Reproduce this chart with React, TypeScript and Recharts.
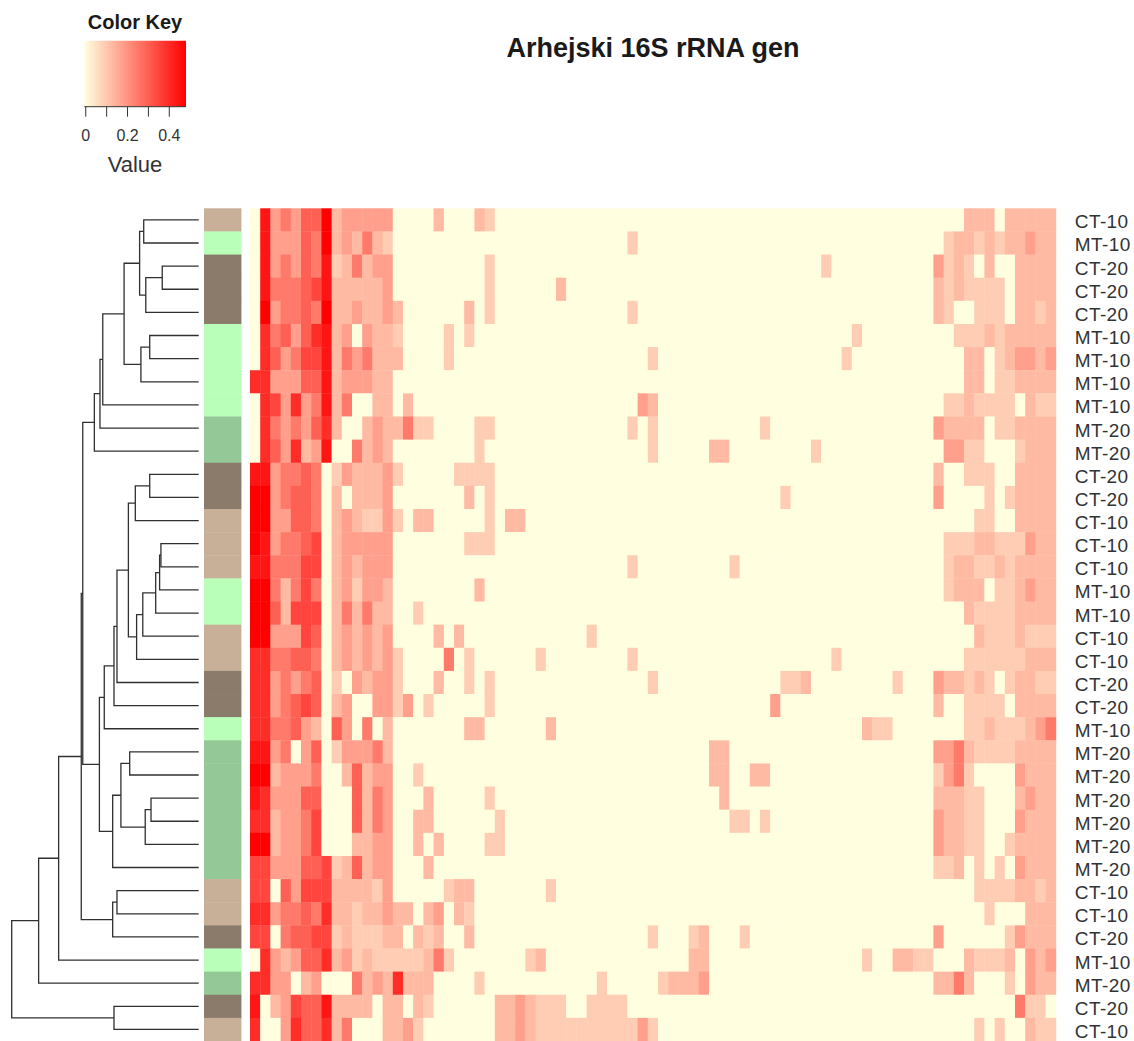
import React from 'react';
import { Area, ComposedChart, Scatter, ScatterChart, XAxis, YAxis } from 'recharts';

// Groups for every row, top to bottom.
const rowLabels = [
  'CT-10','MT-10','CT-20','CT-20','CT-20','MT-10','MT-10','MT-10','MT-10','MT-20','MT-20','CT-20',
  'CT-20','CT-10','CT-10','CT-10','MT-10','MT-10','CT-10','CT-10','CT-20','CT-20','MT-10','MT-20',
  'MT-20','MT-20','MT-20','MT-20','MT-20','CT-10','CT-10','CT-20','MT-10','MT-20','CT-20','CT-10',
];
const groupColors: Record<string, string> = {
  'CT-10': '#C8B098', 'MT-10': '#B9FFB9', 'CT-20': '#8B7B6B', 'MT-20': '#94C896',
};

// One hex digit per cell, an index into levelValues.
const levelValues = [0, 0.05, 0.095, 0.13, 0.18, 0.25, 0.3, 0.35, 0.395, 0.44, 0.48];
const heatRows = [
  '0945466a344444 00003000320 0000000000 0000000000 0000000000 0000000000 00 000333033333',
  '0944465a343532 00000000000 0000000000 0020000000 0000000000 0000000000 00 023323233433',
  '09454659235344 00000000020 0000000000 0000000000 0000000000 0200000000 00 423203003333',
  '09555679333334 00000000020 0000030000 0000000000 0000000000 0000000000 00 323222203333',
  '0a45565a334334 30000003020 0000000000 0020000000 0000000000 0000000000 00 320022203323',
  '08564689340433 20000202000 0000000000 0000000000 0000000000 0000200000 00 002223233333',
  '08645779354533 30000200000 0000000000 0000200000 0000000000 0002000000 00 000330234434',
  '88444669344433 00000000000 0000000000 0000000000 0000000000 0000000000 00 000330223333',
  '08748459350033 03000000000 0000000000 0004300000 0000000000 0000000000 00 022322220322',
  '08545468300343 35220000220 0000000000 0020200000 0000020000 0000000000 00 433330223333',
  '08648349005343 00000000200 0000000000 0000200000 3300000000 2000000000 00 044220002333',
  '99455650243334 20000022220 0000000000 0000000000 0000000000 0000000000 00 300222003333',
  'aa456650303334 00000003020 0000000000 0000000000 0000000200 0000000000 00 400002023333',
  'aa446650343224 20330000020 3300000000 0000000000 0000000000 0000000000 00 000022003333',
  'a9455670344444 00000002220 0000000000 0000000000 0000000000 0000000000 00 022233222433',
  '99555770343444 00000000000 0000000000 0020000000 0020000000 0000000000 00 023322323333',
  'aa535750342443 00000000300 0000000000 0000000000 0000000000 0000000000 00 023330223433',
  'aa637770353533 00200000000 0000000000 0000000000 0000000000 0000000000 00 000322223333',
  'aa444760343434 00003030000 0000000020 0000000000 0000000000 0000000000 00 000032223222',
  '88556650343434 20000502000 0002000000 0020000000 0000000000 0020000000 00 000222222333',
  '88454560204344 20003002020 0000000000 0000200000 0000000223 0000000020 00 433232023322',
  '88456760340044 24020000020 0000000000 0000000000 0000004000 0000000000 00 300222203333',
  '88556430640503 00000003300 0000300000 0000000000 0000000000 0000032200 00 000223222345',
  '99450460244453 00000000000 0000000000 0000000000 3300000000 0000000000 00 445322223333',
  'aa344450036344 00200000000 0000000000 0000000000 3300330000 0000000000 00 245200004333',
  '98444660006354 00030000020 0000000000 0000000000 0300000000 0000000000 00 333220003433',
  '88344570006354 00330000002 0000000000 0000000000 0022020000 0000000000 00 433220004333',
  'aa344570003344 00303000022 0000000000 0000000000 0000000000 0000000000 00 433220023333',
  '77444667236344 00030000000 0000000000 0000000000 0000000000 0000000000 00 223020204333',
  '77064777333324 00000233000 0000200000 0000000000 0000000000 0000000000 00 000022223323',
  '88455658332334 33034032000 0000000000 0000000000 0000000000 0000000000 00 000002000333',
  '77056677232223 30323003000 0000000000 0000200023 0002000000 0000000000 00 400000024333',
  '08434668342322 22235200000 0023000000 0000000033 0000000000 0000020033 22 000322230434',
  '88440340005343 83330000200 0000000002 0000023334 0000000000 0000000000 00 335300020433',
  '90347669333303 30320000003 3432220022 2200000000 0000000000 0000000000 00 000000005220',
  '80048668350003 34200000003 3432222222 2224200000 0000000000 0000000000 00 000020200322',
];

// hclust style: a negative id is a row (1-based), a positive id an earlier merge; third value is the height.
const merges: [number, number, number][] = [
  [-1,-2,.294],[-3,-4,.195],[2,-5,.283],[1,3,.316],[-6,-7,.262],[5,-8,.309],[4,6,.399],
  [7,-9,.513],[8,-10,.528],[9,-11,.558],[-12,-13,.262],[11,-14,.339],[-15,-16,.202],[13,-17,.209],
  [14,-18,.230],[15,-19,.299],[16,-20,.332],[12,17,.376],[18,-21,.437],[19,-22,.453],[20,-23,.505],
  [-24,-25,.369],[-26,-27,.255],[23,-28,.286],[22,24,.416],[25,-29,.460],[21,26,.531],[-30,-31,.437],
  [28,-32,.460],[10,27,.620],[30,29,.628],[31,-33,.749],[32,-34,.856],[-35,-36,.453],[33,34,1.0],
];

const keyTicks = [0, 0.1, 0.2, 0.3, 0.4];
const keyTickLabels = ['0', '', '0.2', '', '0.4'];
const keyRange = [-0.007, 0.48];
const MAX_VALUE = 0.48;

const INK = '#333333';
const FONT = '"Liberation Sans", Arial, sans-serif';
const PAGE_W = 1134;
const PAGE_H = 1041;
const PLOT_TOP = 208.3;
const PLOT_LEFT = 204;
const PLOT_RIGHT = 1055.8;
const COLS = 79;
const SIDE_UNITS = 4.51;
const SIDE_GAP = 0.84;
const CELL_W = (PLOT_RIGHT - PLOT_LEFT) / (COLS + SIDE_UNITS);
const CELL_H = (PAGE_H - PLOT_TOP) / rowLabels.length;

const toColor = (v: number) => {
  const t = Math.min(v / MAX_VALUE, 1);
  return `rgb(255,${Math.round(255 * (1 - t))},${Math.round(224 * (1 - t))})`;
};

const cells = heatRows.flatMap((text, row) =>
  text.replace(/ /g, '').split('').map((digit, col) => ({
    col: col + 0.5,
    row: row + 0.5,
    value: levelValues[parseInt(digit, 16)],
  })),
);
const sideCells = rowLabels.map((label, row) => ({
  col: -(SIDE_UNITS + SIDE_GAP) / 2,
  row: row + 0.5,
  label,
}));
const rowTicks = rowLabels.map((_, row) => row + 0.5);

const segments = (() => {
  const nodes: { h: number; y: number }[] = [];
  const read = (id: number) => (id < 0 ? { h: 0, y: -id - 0.5 } : nodes[id - 1]);
  return merges.map(([a, b, h]) => {
    const p = read(a);
    const q = read(b);
    nodes.push({ h, y: (p.y + q.y) / 2 });
    return [
      { h: p.h, y: p.y },
      { h, y: p.y },
      { h, y: q.y },
      { h: q.h, y: q.y },
    ];
  });
})();

const keyData = keyRange.map((v) => ({ v, top: 1 }));

const HeatCell = (p: any) => (
  <rect
    x={p.cx - CELL_W / 2}
    y={p.cy - CELL_H / 2}
    width={CELL_W + 0.4}
    height={CELL_H + 0.4}
    fill={toColor(p.payload.value)}
  />
);
const SideCell = (p: any) => (
  <rect
    x={p.cx - ((SIDE_UNITS - SIDE_GAP) * CELL_W) / 2}
    y={p.cy - CELL_H / 2}
    width={(SIDE_UNITS - SIDE_GAP) * CELL_W}
    height={CELL_H + 0.4}
    fill={groupColors[p.payload.label]}
  />
);
const RowTick = (p: any) => (
  <text x={p.x + 11} y={p.y + 8.5} fontFamily={FONT} fontSize={19} letterSpacing={0.4} fill={INK}>
    {rowLabels[p.payload.value - 0.5]}
  </text>
);
const NoDot = () => null;

const abs = (left: number, top: number): React.CSSProperties => ({ position: 'absolute', left, top });

export default function App() {
  return (
    <div style={{ position: 'absolute', left: 0, top: 0, width: PAGE_W, height: PAGE_H, overflow: 'hidden', background: '#fff', fontFamily: FONT }}>
      <div style={{ ...abs(353, 33), width: 600, textAlign: 'center', fontWeight: 700, fontSize: 27, color: '#1a1a1a' }}>
        Arhejski 16S rRNA gen
      </div>
      <div style={{ ...abs(35, 11), width: 200, textAlign: 'center', fontWeight: 700, fontSize: 20, color: '#1a1a1a' }}>
        Color Key
      </div>
      <div style={{ ...abs(35, 152), width: 200, textAlign: 'center', fontSize: 22, color: INK }}>Value</div>

      <div style={abs(0, 0)}>
        <ComposedChart width={220} height={150} data={keyData} margin={{ left: 84.3, right: 34, top: 40.7, bottom: 13.3 }}>
          <defs>
            <linearGradient id="keyRamp" x1="0" y1="0" x2="1" y2="0">
              <stop offset="0%" stopColor={toColor(0)} />
              <stop offset="100%" stopColor={toColor(MAX_VALUE)} />
            </linearGradient>
          </defs>
          <XAxis
            dataKey="v"
            type="number"
            domain={keyRange}
            ticks={keyTicks}
            interval={0}
            height={30}
            tickSize={10}
            tickMargin={13}
            stroke={INK}
            tick={{ fontSize: 16, fontFamily: FONT, fill: INK }}
            tickFormatter={(v: number) => keyTickLabels[keyTicks.indexOf(v)]}
          />
          <YAxis hide type="number" domain={[0, 1]} />
          <Area dataKey="top" type="linear" stroke="none" fill="url(#keyRamp)" fillOpacity={1} isAnimationActive={false} dot={false} activeDot={false} />
        </ComposedChart>
      </div>

      <div style={abs(0, 0)}>
        <ScatterChart width={PLOT_LEFT} height={PAGE_H} margin={{ left: 11.7, right: 5.3, top: PLOT_TOP, bottom: 0 }}>
          <XAxis hide dataKey="h" type="number" domain={[0, 1]} reversed />
          <YAxis hide dataKey="y" type="number" domain={[0, rowLabels.length]} reversed />
          {segments.map((points, i) => (
            <Scatter
              key={i}
              data={points}
              shape={NoDot}
              line={{ stroke: '#303030', strokeWidth: 1.3 }}
              lineType="joint"
              isAnimationActive={false}
            />
          ))}
        </ScatterChart>
      </div>

      <div style={abs(0, 0)}>
        <ScatterChart width={PAGE_W} height={PAGE_H} margin={{ left: PLOT_LEFT, right: 0, top: PLOT_TOP, bottom: 0 }}>
          <XAxis hide dataKey="col" type="number" domain={[-SIDE_UNITS, COLS]} />
          <YAxis
            dataKey="row"
            type="number"
            orientation="right"
            width={PAGE_W - PLOT_RIGHT}
            domain={[0, rowLabels.length]}
            reversed
            ticks={rowTicks}
            interval={0}
            axisLine={false}
            tickLine={false}
            tick={RowTick}
          />
          <Scatter data={sideCells} shape={SideCell} isAnimationActive={false} />
          <Scatter data={cells} shape={HeatCell} isAnimationActive={false} />
        </ScatterChart>
      </div>
    </div>
  );
}
